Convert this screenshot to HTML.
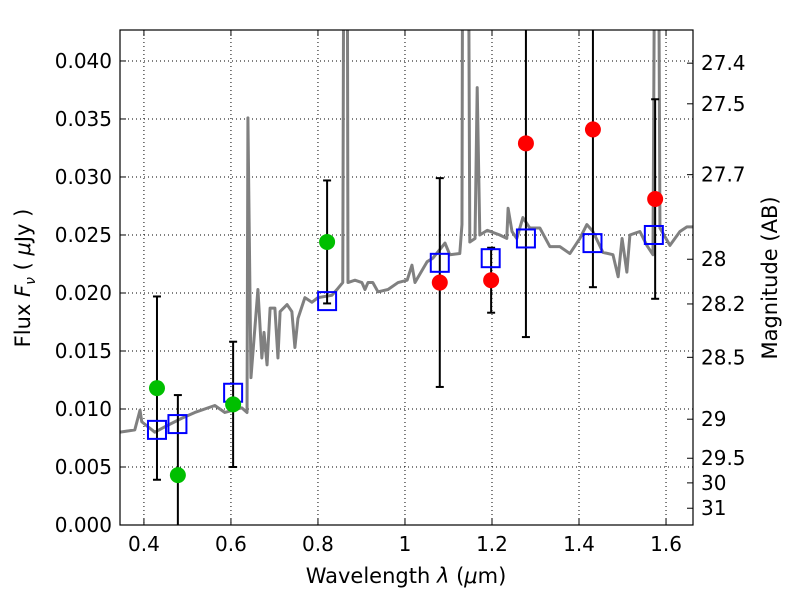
<!DOCTYPE html>
<html><head><meta charset="utf-8">
<style>
body{margin:0;background:#fff;}
svg text{font-family:"DejaVu Sans","Liberation Sans",sans-serif;fill:#000;}
</style></head>
<body>
<svg id="chart" width="800" height="600" xmlns="http://www.w3.org/2000/svg"></svg>
<script>
const specLam=[0.345,0.379,0.391,0.395,0.425,0.455,0.487,0.517,0.563,0.586,0.625,0.637,0.639,0.646,0.662,0.671,0.676,0.683,0.690,0.701,0.708,0.713,0.729,0.740,0.747,0.754,0.770,0.786,0.800,0.832,0.846,0.857,0.860,0.867,0.869,0.885,0.901,0.908,0.915,0.926,0.938,0.961,0.984,1.005,1.016,1.023,1.051,1.064,1.092,1.103,1.126,1.131,1.133,1.145,1.149,1.161,1.166,1.172,1.189,1.218,1.234,1.237,1.246,1.257,1.271,1.287,1.310,1.333,1.356,1.379,1.402,1.418,1.432,1.455,1.478,1.490,1.499,1.510,1.517,1.540,1.556,1.570,1.575,1.582,1.586,1.609,1.632,1.648,1.662];
const specFlux=[0.0080,0.0082,0.0099,0.0089,0.0080,0.0086,0.0092,0.0097,0.0103,0.0097,0.0101,0.0097,0.0351,0.0127,0.0203,0.0144,0.0166,0.0138,0.0187,0.0187,0.0144,0.0184,0.0190,0.0184,0.0153,0.0178,0.0196,0.0192,0.0196,0.0198,0.0204,0.0209,0.06,0.06,0.0209,0.0211,0.0209,0.0203,0.0209,0.0209,0.0201,0.0203,0.0209,0.0211,0.0224,0.0209,0.0227,0.0230,0.0243,0.0233,0.0234,0.0259,0.06,0.06,0.0244,0.0247,0.0377,0.0250,0.0254,0.0250,0.0247,0.0273,0.0253,0.0247,0.0265,0.0256,0.0256,0.0240,0.0240,0.0234,0.0247,0.0259,0.0253,0.0235,0.0233,0.0214,0.0247,0.0218,0.0250,0.0253,0.0241,0.0233,0.06,0.06,0.0256,0.0241,0.0253,0.0257,0.0257];
const greenLam=[0.430,0.478,0.605,0.821];
const greenFlux=[0.0118,0.0043,0.0104,0.0244];
const greenErr=[0.0079,0.0069,0.0054,0.0053];
const redLam=[1.080,1.198,1.278,1.432,1.575];
const redFlux=[0.0209,0.0211,0.0329,0.0341,0.0281];
const redErr=[0.0090,0.0028,0.0167,0.0136,0.0086];
const modelLam=[0.430,0.477,0.605,0.821,1.080,1.197,1.278,1.431,1.572];
const modelFlux=[0.0082,0.0087,0.0114,0.0193,0.0226,0.0230,0.0247,0.0243,0.0250];
const xTicks=[0.4,0.6,0.8,1.0,1.2,1.4,1.6];
const xTickLabels=["0.4","0.6","0.8","1","1.2","1.4","1.6"];
const yTicks=[0,0.005,0.010,0.015,0.020,0.025,0.030,0.035,0.040];
const yTickLabels=["0.000","0.005","0.010","0.015","0.020","0.025","0.030","0.035","0.040"];
const magTicks=[27.4,27.5,27.7,28,28.2,28.5,29,29.5,30,31];
const magLabels=["27.4","27.5","27.7","28","28.2","28.5","29","29.5","30","31"];

const L=120,R=693,T=30,B=525;
const X0=0.345,X1=1.662,Y0=0,Y1=0.04267;
const sx=v=>L+(v-X0)/(X1-X0)*(R-L);
const sy=v=>B-(v-Y0)/(Y1-Y0)*(B-T);
const svg=document.getElementById('chart');
const NS="http://www.w3.org/2000/svg";
function mk(tag,attrs,parent){const e=document.createElementNS(NS,tag);for(const k in attrs)e.setAttribute(k,attrs[k]);(parent||svg).appendChild(e);return e;}

const clip=mk('clipPath',{id:'pc'});mk('rect',{x:L,y:T,width:R-L,height:B-T},clip);

// grid
const grid=mk('g',{});


xTicks.forEach(v=>{mk('line',{x1:sx(v),x2:sx(v),y1:T,y2:B,stroke:'#000','stroke-width':1,'stroke-dasharray':'1,3'},grid);});
yTicks.forEach(v=>{mk('line',{x1:L,x2:R,y1:sy(v),y2:sy(v),stroke:'#000','stroke-width':1,'stroke-dasharray':'1,3'},grid);});

// spectrum
const plot=mk('g',{'clip-path':'url(#pc)'});
const sp=mk('polyline',{points:specLam.map((l,i)=>sx(l)+','+sy(specFlux[i])).join(' '),fill:'none',stroke:'#808080','stroke-width':3,'stroke-linejoin':'round'},plot);



// error bars
function errbar(l,f,e,name){
  const g=mk('g',{},plot);
  
  
  const x=sx(l);
  mk('line',{x1:x,x2:x,y1:sy(f+e),y2:sy(f-e),stroke:'#000','stroke-width':2},g);
  mk('line',{x1:x-4,x2:x+4,y1:sy(f+e),y2:sy(f+e),stroke:'#000','stroke-width':2},g);
  mk('line',{x1:x-4,x2:x+4,y1:sy(f-e),y2:sy(f-e),stroke:'#000','stroke-width':2},g);
}
greenLam.forEach((l,i)=>errbar(l,greenFlux[i],greenErr[i],'green-error-bar'));
redLam.forEach((l,i)=>errbar(l,redFlux[i],redErr[i],'red-error-bar'));

modelLam.forEach((l,i)=>{
  const r=mk('rect',{x:sx(l)-9,y:sy(modelFlux[i])-9,width:18,height:18,fill:'none',stroke:'#0000ff','stroke-width':2},plot);
  
  
});
greenLam.forEach((l,i)=>{
  const c=mk('circle',{cx:sx(l),cy:sy(greenFlux[i]),r:8,fill:'#00bf00'},plot);
  
  
});
redLam.forEach((l,i)=>{
  const c=mk('circle',{cx:sx(l),cy:sy(redFlux[i]),r:8,fill:'#ff0000'},plot);
  
  
});

// frame
const fr=mk('rect',{x:L,y:T,width:R-L,height:B-T,fill:'none',stroke:'#000','stroke-width':1.2});



// x ticks
xTicks.forEach((v,i)=>{
  const x=sx(v);
  mk('line',{x1:x,x2:x,y1:B,y2:B-6,stroke:'#000'});
  mk('line',{x1:x,x2:x,y1:T,y2:T+6,stroke:'#000'});
  const t=mk('text',{x:x,y:B+26,'font-size':20,'text-anchor':'middle'});t.textContent=xTickLabels[i];
  
  
});
yTicks.forEach((v,i)=>{
  const y=sy(v);
  mk('line',{x1:L,x2:L+6,y1:y,y2:y,stroke:'#000'});
  const t=mk('text',{x:L-8,y:y+7,'font-size':20,'text-anchor':'end'});t.textContent=yTickLabels[i];
  
  
});
magTicks.forEach((m,i)=>{
  const y=sy(Math.pow(10,(23.9-m)/2.5));
  mk('line',{x1:R,x2:R-6,y1:y,y2:y,stroke:'#000'});
  const t=mk('text',{x:R+8,y:y+7,'font-size':20,'text-anchor':'start'});t.textContent=magLabels[i];
  
  
});

const xl=mk('text',{x:406,y:583,'font-size':21,'text-anchor':'middle'});
xl.innerHTML='Wavelength  <tspan font-style="italic">λ</tspan> (<tspan font-style="italic">μ</tspan>m)';


const yl=mk('text',{x:0,y:0,'font-size':21,'text-anchor':'middle',transform:'translate(30,278) rotate(-90)'});
yl.innerHTML='Flux  <tspan font-style="italic">F</tspan><tspan font-style="italic" font-size="14" dy="5">ν</tspan><tspan dy="-5">  ( </tspan><tspan font-style="italic">μ</tspan>Jy )';


const ml=mk('text',{x:0,y:0,'font-size':21,'text-anchor':'middle',transform:'translate(777,278) rotate(-90)'});
ml.textContent='Magnitude (AB)';


</script>
</body></html>
